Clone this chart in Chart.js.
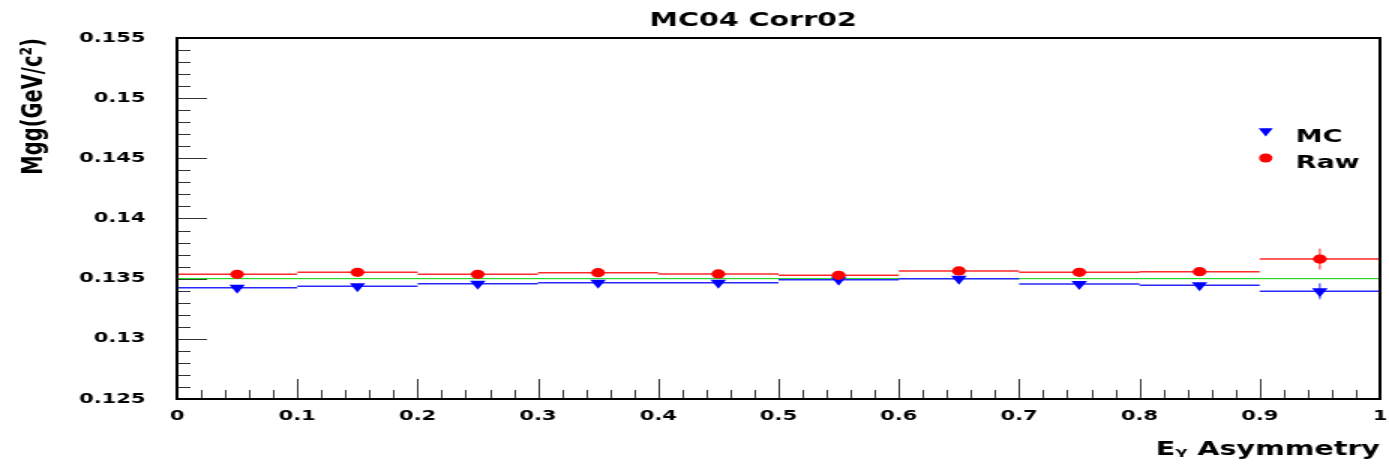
<!DOCTYPE html>
<html>
<head>
<meta charset="utf-8">
<script src="https://cdn.jsdelivr.net/npm/chart.js@4/dist/chart.umd.min.js"></script>
<style>
  html, body { margin: 0; padding: 0; background: #fff; }
</style>
</head>
<body>
<!-- the reference is a horizontally stretched picture, so the canvas is drawn narrow and stretched -->
<canvas id="chart" width="926" height="466" style="display:block;width:1389px;height:466px"></canvas>
<script>
const binEdges = [0, 0.1, 0.2, 0.3, 0.4, 0.5, 0.6, 0.7, 0.8, 0.9, 1.0];
const binCenters = [0.05, 0.15, 0.25, 0.35, 0.45, 0.55, 0.65, 0.75, 0.85, 0.95];
const mcValues = [0.13425, 0.13436, 0.13458, 0.13466, 0.13466, 0.13491, 0.13500, 0.13456, 0.13445, 0.13395];
const mcErrors = [0.0001, 0.0001, 0.0001, 0.0001, 0.0001, 0.0001, 0.0001, 0.0001, 0.0001, 0.00066];
const rawValues = [0.13536, 0.13553, 0.13536, 0.13550, 0.13539, 0.13528, 0.13564, 0.13553, 0.13558, 0.13663];
const rawErrors = [0.0001, 0.0001, 0.0001, 0.0001, 0.0001, 0.0001, 0.00012, 0.0001, 0.00012, 0.00087];
const pi0Mass = 0.135;

const xTicks = [0, 0.1, 0.2, 0.3, 0.4, 0.5, 0.6, 0.7, 0.8, 0.9, 1];
const xTickLabels = ['0', '0.1', '0.2', '0.3', '0.4', '0.5', '0.6', '0.7', '0.8', '0.9', '1'];
const yTicks = [0.125, 0.13, 0.135, 0.14, 0.145, 0.15, 0.155];
const yTickLabels = ['0.125', '0.13', '0.135', '0.14', '0.145', '0.15', '0.155'];

const chartTitle = 'MC04 Corr02';
const legendItems = [
    { label: 'MC', color: '#0000ff', style: 'triangle', rotation: 180 },
    { label: 'Raw', color: '#ff0000', style: 'circle', rotation: 0 }
];

Chart.defaults.font.family = "'DejaVu Sans', sans-serif";
Chart.defaults.font.weight = 'bold';
Chart.defaults.color = '#000';

// horizontal bin-width bars, broken between bins
function binSegments(values) {
    const pts = [];
    values.forEach((v, i) => {
        pts.push({ x: binEdges[i], y: v }, { x: binEdges[i + 1], y: v }, { x: binEdges[i + 1], y: null });
    });
    return pts;
}

function errorBars(values, errors) {
    const pts = [];
    values.forEach((v, i) => {
        pts.push({ x: binCenters[i], y: v - errors[i] }, { x: binCenters[i], y: v + errors[i] }, { x: binCenters[i], y: null });
    });
    return pts;
}

function markers(values) {
    return values.map((v, i) => ({ x: binCenters[i], y: v }));
}

// ROOT style ticks drawn inside the frame
const insideTicks = {
    id: 'insideTicks',
    beforeDatasetsDraw(chart) {
        const { ctx, chartArea, scales } = chart;
        ctx.save();
        ctx.strokeStyle = '#333';
        ctx.lineWidth = 1;
        ctx.beginPath();
        for (let k = 0; k <= 30; k++) {
            const y = Math.round(scales.y.getPixelForValue(0.125 + k * 0.001)) + 0.5;
            const len = k % 5 === 0 ? 20 : 9;
            ctx.moveTo(chartArea.left, y);
            ctx.lineTo(chartArea.left + len, y);
        }
        for (let k = 0; k <= 50; k++) {
            const x = Math.round(scales.x.getPixelForValue(k * 0.02)) + 0.5;
            const len = k % 5 === 0 ? 20 : 9;
            ctx.moveTo(x, chartArea.bottom);
            ctx.lineTo(x, chartArea.bottom - len);
        }
        ctx.stroke();
        ctx.restore();
    }
};

const frameTitleLegend = {
    id: 'frameTitleLegend',
    afterDatasetsDraw(chart) {
        const { ctx, chartArea } = chart;
        ctx.save();
        ctx.strokeStyle = '#000';
        ctx.lineWidth = 2;
        ctx.strokeRect(chartArea.left, chartArea.top, chartArea.right - chartArea.left, chartArea.bottom - chartArea.top);

        ctx.fillStyle = '#000';
        ctx.font = "bold 19px 'DejaVu Sans'";
        ctx.textAlign = 'center';
        ctx.textBaseline = 'alphabetic';
        ctx.fillText(chartTitle, chartArea.left + 0.479 * (chartArea.right - chartArea.left), 26);

        ctx.font = "bold 18px 'DejaVu Sans'";
        ctx.textAlign = 'left';
        const lx = chartArea.left + 0.905 * (chartArea.right - chartArea.left);
        legendItems.forEach((item, i) => {
            const cy = 132 + i * 26;
            ctx.fillStyle = item.color;
            ctx.strokeStyle = item.color;
            Chart.helpers.drawPoint(ctx, { pointStyle: item.style, radius: item.style === 'circle' ? 4.5 : 5.5, rotation: item.rotation, borderWidth: 0 }, lx, item.style === 'circle' ? cy : cy - 1);
            ctx.fillStyle = '#000';
            ctx.fillText(item.label, lx + 20, cy + 10);
        });
        ctx.restore();
    }
};

new Chart(document.getElementById('chart'), {
    type: 'line',
    data: {
        datasets: [
            {
                label: 'Raw',
                data: markers(rawValues),
                showLine: false,
                pointStyle: 'circle',
                pointRadius: 4.6,
                pointBackgroundColor: '#ff0000',
                pointBorderWidth: 0,
                order: 0
            },
            {
                label: 'MC',
                data: markers(mcValues),
                showLine: false,
                pointStyle: 'triangle',
                pointRotation: 180,
                pointRadius: 6,
                pointBackgroundColor: '#0000ff',
                pointBorderWidth: 0,
                order: 1
            },
            {
                label: 'Raw bins',
                data: binSegments(rawValues),
                borderColor: '#ff2a2a',
                borderWidth: 1.5,
                pointRadius: 0,
                spanGaps: false,
                order: 2
            },
            {
                label: 'Raw errors',
                data: errorBars(rawValues, rawErrors),
                borderColor: '#ff2a2a',
                borderWidth: 1,
                pointRadius: 0,
                spanGaps: false,
                order: 2
            },
            {
                label: 'MC bins',
                data: binSegments(mcValues),
                borderColor: '#2a2aff',
                borderWidth: 1.5,
                pointRadius: 0,
                spanGaps: false,
                order: 3
            },
            {
                label: 'MC errors',
                data: errorBars(mcValues, mcErrors),
                borderColor: '#2a2aff',
                borderWidth: 1,
                pointRadius: 0,
                spanGaps: false,
                order: 3
            },
            {
                label: 'pi0 mass',
                data: [{ x: 0, y: pi0Mass }, { x: 1, y: pi0Mass }],
                borderColor: '#00d000',
                borderWidth: 1,
                pointRadius: 0,
                order: 4
            }
        ]
    },
    options: {
        responsive: false,
        animation: false,
        devicePixelRatio: 1,
        layout: { padding: { top: 38, right: 2, left: 0, bottom: 0 } },
        plugins: {
            legend: { display: false },
            title: { display: false },
            tooltip: { enabled: false }
        },
        scales: {
            x: {
                type: 'linear',
                min: 0,
                max: 1,
                afterBuildTicks: scale => { scale.ticks = xTicks.map(v => ({ value: v })); },
                afterFit: scale => {
                    scale.height = 67;
                    scale.paddingLeft = 0;
                    scale.paddingRight = 0;
                },
                grid: { display: false, drawTicks: false },
                border: { display: false },
                ticks: {
                    callback: (v, i) => xTickLabels[i],
                    font: { size: 14, weight: 'bold' },
                    color: '#000',
                    padding: 9,
                    maxRotation: 0,
                    autoSkip: false
                },
                title: {
                    display: true,
                    text: 'Eᵧ Asymmetry',
                    align: 'end',
                    font: { size: 19, weight: 'bold' },
                    color: '#000',
                    padding: { top: 0, bottom: 5 }
                }
            },
            y: {
                type: 'linear',
                min: 0.125,
                max: 0.155,
                afterBuildTicks: scale => { scale.ticks = yTicks.map(v => ({ value: v })); },
                afterFit: scale => {
                    scale.width = 118;
                    scale.paddingTop = 0;
                    scale.paddingBottom = 0;
                },
                grid: { display: false, drawTicks: false },
                border: { display: false },
                ticks: {
                    callback: (v, i) => yTickLabels[i],
                    font: { size: 14, weight: 'bold' },
                    color: '#000',
                    padding: 21,
                    autoSkip: false
                },
                title: {
                    display: true,
                    text: 'Mgg(GeV/c²)',
                    align: 'end',
                    font: { size: 19.5, weight: 'bold' },
                    color: '#000',
                    padding: { top: 11, bottom: 0 }
                }
            }
        }
    },
    plugins: [insideTicks, frameTitleLegend]
});
</script>
</body>
</html>
